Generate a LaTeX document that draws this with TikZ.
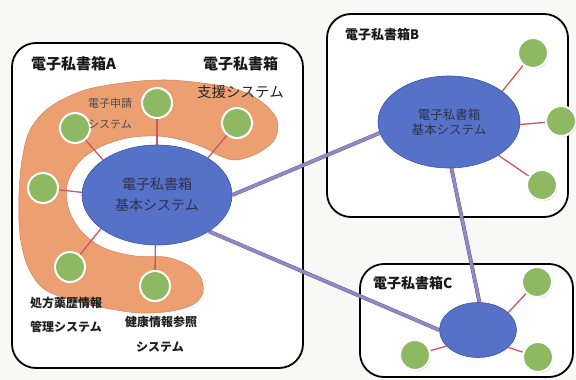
\documentclass[tikz,border=0pt]{standalone}
\usepackage{fontspec}
\newfontfamily\jp{Noto Sans CJK JP}
\usetikzlibrary{shapes.geometric,shadows}
\pgfdeclarelayer{bg}
\pgfdeclarelayer{lines}
\pgfsetlayers{bg,lines,main}
\definecolor{paper}{RGB}{248,248,246}
\definecolor{blob}{RGB}{236,160,114}
\definecolor{blobedge}{RGB}{214,128,88}
\definecolor{subgreen}{RGB}{142,184,98}
\definecolor{coreblue}{RGB}{86,114,200}
\definecolor{coreedge}{RGB}{62,84,162}
\definecolor{coretext}{RGB}{45,50,75}
\definecolor{spokered}{RGB}{205,85,95}
\definecolor{linkpurple}{RGB}{146,136,200}
\definecolor{linkdark}{RGB}{95,90,125}
\begin{document}
\begin{tikzpicture}[x=1pt,y=-1pt,
  every node/.style={font=\jp},
  box/.style={draw=black, line width=1.8pt, rounded corners=24pt},
  core/.style={ellipse, draw=coreedge, line width=0.6pt, fill=coreblue, inner sep=0pt, align=center, text=coretext},
  sub/.style={circle, fill=subgreen, draw=white, line width=2pt, minimum size=30pt, inner sep=0pt,
    general shadow={fill=black!28, shadow xshift=0.7pt, shadow yshift=-1.1pt}},
  spoke/.style={draw=spokered, line width=1.3pt},
  link/.style={draw=linkpurple, line width=3pt, preaction={draw=linkdark, line width=3.8pt}},
  title/.style={anchor=west, inner sep=0pt, text=black!90, font=\jp\bfseries\fontsize{15}{15}\selectfont},
  lbl/.style={anchor=west, inner sep=0pt, text=black!88, font=\jp\bfseries\fontsize{12}{12}\selectfont},
  thin/.style={anchor=west, inner sep=0pt, text=black!70, font=\jp\fontsize{11}{11}\selectfont}
]
\useasboundingbox (0,0) rectangle (576,380);
\begin{pgfonlayer}{bg}
\fill[paper] (0,0) rectangle (576,380);
\draw[box, fill=white] (12,43) rectangle (303,368);
\draw[box, fill=white] (327,14) rectangle (568,217);
\draw[box, fill=white] (360,264) rectangle (573,377);
\filldraw[fill=blob, draw=blobedge, line width=0.5pt] plot[smooth cycle, tension=0.55] coordinates {
 (22,160) (30,130) (50,107) (85,90) (130,82) (167,80) (202,83) (236,89) (262,102) (277,120)
 (275,139) (258,153) (236,160) (220,156) (205,148) (182,140) (157,136) (127,138) (100,147)
 (79,162) (67,185) (69,210) (82,232) (104,248) (135,256) (165,257) (186,264) (200,276)
 (203,292) (194,304) (172,311) (140,313) (105,308) (72,300) (44,289) (28,267) (20,235) (19,195)};
\end{pgfonlayer}

% core systems
\node[core, minimum width=150pt, minimum height=100pt, font=\jp\fontsize{14}{21}\selectfont] (EA) at (157,195) {電子私書箱\\基本システム};
\node[core, minimum width=142pt, minimum height=92pt, font=\jp\fontsize{12.5}{15.5}\selectfont] (EB) at (449,122) {電子私書箱\\基本システム};
\node[core, minimum width=77pt, minimum height=55pt] (EC) at (478,330) {};

% subsystems A
\node[sub] (g1) at (157,103) {};
\node[sub] (g2) at (75,128) {};
\node[sub] (g3) at (237,123) {};
\node[sub] (g4) at (43,188) {};
\node[sub] (g5) at (70,267) {};
\node[sub] (g6) at (155,286) {};
% subsystems B
\node[sub] (gb1) at (533,53) {};
\node[sub] (gb2) at (561,121) {};
\node[sub] (gb3) at (542,185) {};
% subsystems C
\node[sub] (gc1) at (537,282) {};
\node[sub] (gc2) at (415,355) {};
\node[sub] (gc3) at (538,357) {};

\begin{pgfonlayer}{lines}
\draw[spoke] (g1) -- (EA.north);
\draw[spoke] (g2) -- (EA.147);
\draw[spoke] (g3) -- (EA.36);
\draw[spoke] (g4) -- (EA.178);
\draw[spoke] (g5) -- (EA.211);
\draw[spoke] (g6) -- (EA.268);
\draw[spoke] (gb1) -- (EB.30);
\draw[spoke] (gb2) -- (EB.358);
\draw[spoke] (gb3) -- (EB.326);
\draw[spoke] (gc1) -- (EC.30);
\draw[spoke] (gc2) -- (EC.207);
\draw[spoke] (gc3) -- (EC.330);
\draw[link] (EA.east) -- (EB.189);
\draw[link] (EA.325) -- (EC.west);
\draw[link] (EB.273) -- (EC.87);
\end{pgfonlayer}

% labels
\node[title] (tA) at (31,64) {電子私書箱A};
\node[title] (tS) at (203,64) {電子私書箱};
\node[anchor=west, inner sep=0pt, text=black!85, font=\jp\fontsize{14.5}{14.5}\selectfont] (tS2) at (197,92) {支援システム};
\node[thin] (l1) at (88,103) {電子申請};
\node[thin] (l2) at (88,125) {システム};
\node[lbl] (l3) at (30,303) {処方薬歴情報};
\node[lbl] (l4) at (30,327) {管理システム};
\node[lbl] (l5) at (125,322) {健康情報参照};
\node[lbl, anchor=center] (l6) at (160,347) {システム};
\node[title, font=\jp\bfseries\fontsize{13}{13}\selectfont] (tB) at (345,35) {電子私書箱B};
\node[title, font=\jp\bfseries\fontsize{14}{14}\selectfont] (tC) at (373,283) {電子私書箱C};
\end{tikzpicture}
\end{document}
